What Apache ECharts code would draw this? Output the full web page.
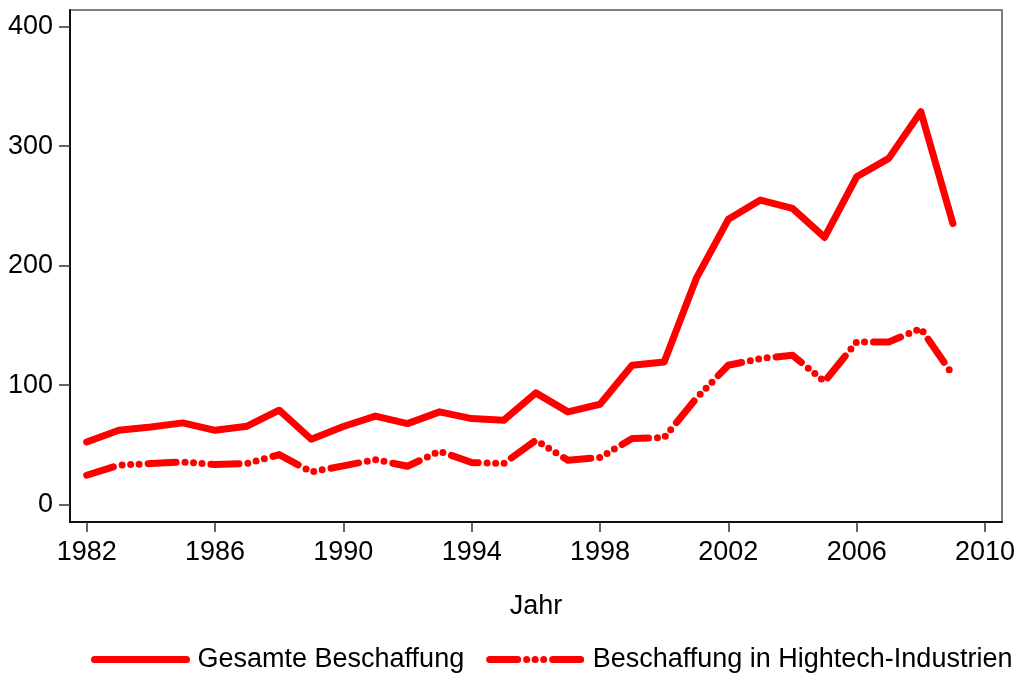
<!DOCTYPE html>
<html>
<head>
<meta charset="utf-8">
<script src="https://cdn.jsdelivr.net/npm/echarts@6/dist/echarts.min.js"></script>
<style>
html,body{margin:0;padding:0;background:#fff;}
#chart{width:1019px;height:678px;}
</style>
</head>
<body>
<div id="chart"></div>
<script>
const years = [1982,1983,1984,1985,1986,1987,1988,1989,1990,1991,1992,1993,1994,1995,1996,1997,1998,1999,2000,2001,2002,2003,2004,2005,2006,2007,2008,2009];
const gesamt = [52.5,62.3,65,68.5,62.3,65.7,79.1,54.8,65.5,74.1,67.9,77.7,72.1,70.7,93.6,77.7,84.1,116.7,119.5,189.3,238.7,254.8,247.9,223.6,274.3,289.7,328.7,235.3];
const hightech = [24.7,33.1,34.5,35.8,33.6,34.5,42.0,27.5,32.5,37.8,32.2,44.8,35.3,34.5,54.0,37.2,39.5,55.4,56.2,89,116.7,122.3,125.1,103,136.2,136.2,147.4,108.4];
const xTicks = [1982,1986,1990,1994,1998,2002,2006,2010];
const yTicks = [0,100,200,300,400];
const seriesNames = ['Gesamte Beschaffung','Beschaffung in Hightech-Industrien'];
const xTitle = 'Jahr';

const FONT = 'Liberation Sans, Arial, sans-serif';
const FS = 27;
const dashPattern = [28,9,0,8.5,0,8.5,0,9];
const chart = echarts.init(document.getElementById('chart'), null, {renderer:'canvas'});
chart.setOption({
  animation:false,
  backgroundColor:'#fff',
  grid:{left:70,right:17,top:10,bottom:156,show:true,borderColor:'#555',borderWidth:1.5,backgroundColor:'transparent'},
  xAxis:{
    type:'value', min:1981.48, max:2010.53,
    name:xTitle, nameLocation:'middle', nameGap:71,
    nameTextStyle:{fontFamily:FONT,fontSize:FS,color:'#000'},
    axisLine:{onZero:false,lineStyle:{color:'#111',width:2}},
    axisTick:{customValues:xTicks,length:10,lineStyle:{color:'#333',width:1.5}},
    axisLabel:{customValues:xTicks,margin:17,fontFamily:FONT,fontSize:FS,color:'#000',formatter:v=>String(v)},
    splitLine:{show:false}
  },
  yAxis:{
    type:'value', min:-14.4, max:413.8,
    axisLine:{show:true,onZero:false,lineStyle:{color:'#111',width:2}},
    axisTick:{show:true,customValues:yTicks,length:11,lineStyle:{color:'#333',width:1.5}},
    axisLabel:{customValues:yTicks,margin:17,fontFamily:FONT,fontSize:FS,color:'#000'},
    splitLine:{show:false}
  },
  legend:{
    left:86, top:641,
    itemWidth:92, itemHeight:14, itemGap:22,
    textStyle:{fontFamily:FONT,fontSize:FS,color:'#000',padding:[0,0,0,6]},
    itemStyle:{opacity:0,borderWidth:0},
    lineStyle:{width:7,cap:'round'},
    data:[
      {name:seriesNames[0], itemStyle:{opacity:0,borderWidth:0}, lineStyle:{width:7,type:'solid',cap:'round',color:'#ff0000'}},
      {name:seriesNames[1], itemStyle:{opacity:0,borderWidth:0}, lineStyle:{width:7,type:dashPattern,cap:'round',color:'#ff0000'}}
    ]
  },
  series:[
    {name:seriesNames[0],type:'line',symbol:'none',data:years.map((y,i)=>[y,gesamt[i]]),
     lineStyle:{color:'#ff0000',width:7,cap:'round',join:'round'},itemStyle:{color:'#ff0000'}},
    {name:seriesNames[1],type:'line',symbol:'none',data:years.map((y,i)=>[y,hightech[i]]),
     lineStyle:{color:'#ff0000',width:7,type:dashPattern,cap:'round',join:'round'},itemStyle:{color:'#ff0000'}}
  ]
});
</script>
</body>
</html>
